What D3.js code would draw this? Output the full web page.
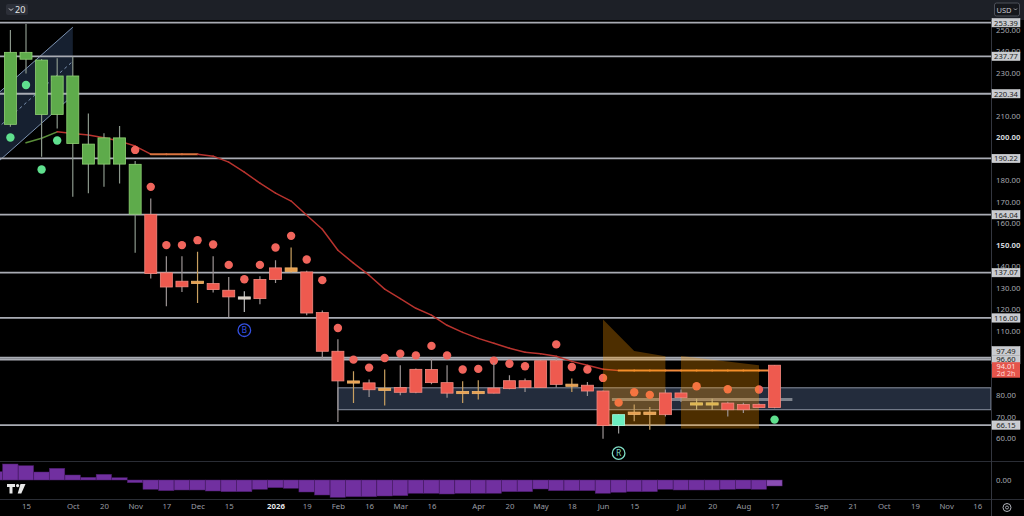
<!DOCTYPE html>
<html>
<head>
<meta charset="utf-8">
<script src="https://cdn.jsdelivr.net/npm/d3@7"></script>
<style>
html,body{margin:0;padding:0;background:#000;overflow:hidden}
svg{display:block;font-family:"Noto Sans",sans-serif}
</style>
</head>
<body>
<script>
var W=1024,H=516;
var axisX=991;

// weekly bars
var weeks=["2025-09-01","2025-09-08","2025-09-15","2025-09-22","2025-09-29","2025-10-06","2025-10-13","2025-10-20","2025-10-27",
  "2025-11-03","2025-11-10","2025-11-17","2025-11-24","2025-12-01","2025-12-08","2025-12-15","2025-12-22","2025-12-29",
  "2026-01-05","2026-01-12","2026-01-19","2026-01-26","2026-02-02","2026-02-09","2026-02-16","2026-02-23","2026-03-02",
  "2026-03-09","2026-03-16","2026-03-23","2026-03-30","2026-04-06","2026-04-13","2026-04-20","2026-04-27","2026-05-04",
  "2026-05-11","2026-05-18","2026-05-25","2026-06-01","2026-06-08","2026-06-15","2026-06-22","2026-06-29","2026-07-06",
  "2026-07-13","2026-07-20","2026-07-27","2026-08-03","2026-08-10","2026-08-17"];

var open =[null,206.1,236.4,210.7,210.7,197.2,187.6,187.6,187.6,164.3,164.2,137,133.1,133.1,132,128.9,125.8,125,
  133.9,139.3,137.4,118.5,100.5,86.7,85.8,83.3,83.6,81.4,92,85.9,81.8,81.8,81,83.1,83.6,83.6,96.1,85.2,84.7,82,66,72.2,72.2,
  71,81.1,76.5,76.5,76.4,75.7,75.8,74.3];
var high =[null,250,252.8,236.5,236.8,237.6,211.2,201.9,205.3,189,171.6,144.7,144.7,146.8,144.7,135.1,128.4,135.4,
  142.9,148.8,138,119.5,106.1,91.2,87.4,92,94,92.5,97.4,94,86.5,87,95,89.3,87.8,96.3,97.8,87.8,86.2,82.3,71.2,75.7,74.6,
  82.7,82.7,78.4,78.4,77,76.5,76.2,94.1];
var low  =[null,205,229.8,191,204.2,172.4,174,177,178.6,146.3,134.4,121.4,128.1,123,127.8,116.5,118.8,122.4,
  132.3,137,117.3,96.6,67.6,76.4,79.2,75.3,80,81,85.1,78.9,76.4,78,80.8,82.8,81.5,83.4,83.6,81.5,79.7,59.8,62.2,67.9,64,
  70.2,76.9,73.3,73.3,70.2,71.8,74.3,74];
var close=[null,239.6,239.6,236,228.6,228.6,196.9,199.8,199.8,187.5,136.7,130.4,130.5,132,129.2,125.8,125.2,133.9,
  139.3,137.6,118.3,100.5,86.7,86.2,82.6,82.9,81.4,92.1,85.9,81,81.5,81.5,83.4,86.8,86.8,96.1,85.1,85,82,66,71,71.1,71.1,
  81.1,78.9,76.3,76.3,73.3,73.3,74.3,94.01];
var trend=[null,"g","g","g","g","g","g","g","g","g","r","r","r","o","r","r","w","r",
  "r","o","r","r","r","o","r","o","r","r","r","r","o","o","r","r","r","r","r","o","r","r","m","o","o",
  "r","r","y","y","r","r","r","r"];

var ema=[null,null,197.5,199.6,202.6,201.8,201.1,199.9,198.3,196.0,192.2,192.2,192.2,192.2,191.3,188.5,183.9,178.7,
  174.1,170.4,163.8,157.3,147.5,141.5,135.9,129.4,125.0,120.5,117.3,112.6,109.3,106.5,104.2,101.9,100.0,99.3,98.2,95.8,
  94.0,92.1,91.6,91.6,91.6,91.6,91.6,91.6,91.6,91.6,91.6,91.6,91.6];

var redDots=[null,null,null,null,null,null,null,null,null,194.2,177,149.9,149.9,152.2,150.2,140.7,134.0,140.7,
  148.8,154.2,143.2,133.6,111.3,96.6,92.9,97.4,99.4,98.6,103.0,98.6,92.0,92.3,96.1,94.7,93.5,null,103.7,93.2,92.0,88.1,
  76.6,81.4,80.2,null,null,84.2,null,82.8,null,82.7,null];
var greenDots=[null,200.0,224.4,185.1,198.6,null,null,null,null,null,null,null,null,null,null,null,null,null,
  null,null,null,null,null,null,null,null,null,null,null,null,null,null,null,null,null,null,null,null,null,null,
  null,null,null,null,null,null,null,null,null,null,68.7];

var hist=[8.3,16,14.3,8,11.7,5,2.7,5.7,2.3,-2.7,-9.3,-10.7,-10,-10,-11,-11.7,-11.7,-9.3,-7.7,-8.3,-12,-15,-17.3,
  -16.7,-16.7,-16,-15.7,-13.3,-13.3,-14,-13.3,-13.3,-13.3,-11.7,-11.7,-9,-10.7,-10.7,-10.7,-13.3,-12.3,-11.7,-11.7,
  -9.3,-10,-10,-10,-9.3,-9,-9.3,-6];

// horizontal levels
var levels=[253.39,237.77,220.34,190.22,164.04,137.07,116.00,97.49,96.60,66.15];
var lastPrice=94.01, lastLabel2="2d 2h";

// range box and mid line
var boxFrom="2026-02-02", boxTop=83.5, boxBottom=73.3;
var midFrom="2026-06-05", midTo="2026-08-25", midValue=78.1;

// orange zones
var zone1Dates=["2026-06-01","2026-06-15","2026-06-29"], zone1Top=[115.3,100.6,98.2], zone1Bottom=66.0;
var zone2Dates=["2026-07-06","2026-08-10"], zone2Top=[98.3,94.0], zone2Bottom=64.6;

// channel
var chanDates=["2025-08-25","2025-10-06"], chanUpper=[212.7,251.3], chanLower=[180.9,219.5];

// badges
var badges=[{d:"2025-12-22",v:110.3,t:"B",c:"#3450e0"},{d:"2026-06-08",v:53.1,t:"R",c:"#7fdcc4"}];

// x ticks
var xTickDates=["2025-09-15","2025-10-06","2025-10-20","2025-11-03","2025-11-17","2025-12-01","2025-12-15","2026-01-05",
  "2026-01-19","2026-02-02","2026-02-16","2026-03-02","2026-03-16","2026-04-06","2026-04-20","2026-05-04","2026-05-18",
  "2026-06-01","2026-06-15","2026-07-06","2026-07-20","2026-08-03","2026-08-17","2026-09-07","2026-09-21","2026-10-05",
  "2026-10-19","2026-11-02","2026-11-16"];
var xTickLabels=["15","Oct","20","Nov","17","Dec","15","2026","19","Feb","16","Mar","16","Apr","20","May","18",
  "Jun","15","Jul","20","Aug","17","Sep","21","Oct","19","Nov","16"];
// price ticks left visible (the others sit under level tags)
var yTicks=[60,70,80,110,120,130,140,150,160,170,180,200,210,230,240,250];

var parse=d3.utcParse("%Y-%m-%d");
var x=d3.scaleUtc().domain([parse("2025-09-15"),parse("2026-11-16")]).range([26,977.3]);
var y=d3.scaleLinear().domain([60,250]).range([438.3,30]);
var yH=d3.scaleLinear().domain([-10,10]).range([490,470]);
var bw=12;

var colors={
  g:{fill:"#5eab4b",stroke:"#8fd173",wick:"#8b978b"},
  r:{fill:"#ee5a4f",stroke:"#f5897f",wick:"#9c9494"},
  o:{fill:"#e8a04f",stroke:"#f0b56e",wick:"#c9a060"},
  y:{fill:"#dcb24a",stroke:"#e8c46a",wick:"#c8b070"},
  w:{fill:"#d8cfc6",stroke:"#e6ddd4",wick:"#bdbdbd"},
  m:{fill:"#6cefc0",stroke:"#a6ffe0",wick:"#9a9a9a"}
};

var svg=d3.select("body").append("svg").attr("width",W).attr("height",H);
svg.append("rect").attr("width",W).attr("height",H).attr("fill","#000");

svg.append("defs").append("clipPath").attr("id","pane")
  .append("rect").attr("x",0).attr("y",20).attr("width",axisX).attr("height",441.5);

var g=svg.append("g").attr("clip-path","url(#pane)");

// channel
var cx0=x(parse(chanDates[0])),cx1=x(parse(chanDates[1]));
g.append("path")
  .attr("d","M"+cx0+","+y(chanUpper[0])+"L"+cx1+","+y(chanUpper[1])+"L"+cx1+","+y(chanLower[1])+"L"+cx0+","+y(chanLower[0])+"Z")
  .attr("fill","#1a2638").attr("opacity",0.85);
[chanUpper,chanLower].forEach(function(c){
  g.append("line").attr("x1",cx0).attr("y1",y(c[0])).attr("x2",cx1).attr("y2",y(c[1]))
    .attr("stroke","#7d93b2").attr("stroke-width",1);
});
g.append("line").attr("x1",cx0).attr("y1",y((chanUpper[0]+chanLower[0])/2)).attr("x2",cx1).attr("y2",y((chanUpper[1]+chanLower[1])/2))
  .attr("stroke","#7d93b2").attr("stroke-width",1).attr("stroke-dasharray","3,3");

// range box
g.append("rect").attr("x",x(parse(boxFrom))).attr("y",y(boxTop))
  .attr("width",axisX-x(parse(boxFrom))).attr("height",y(boxBottom)-y(boxTop))
  .attr("fill","#232c3c").attr("stroke","#8a93a2").attr("stroke-width",1);

// levels
g.selectAll(".lvl").data(levels).enter().append("line")
  .attr("x1",0).attr("x2",axisX).attr("y1",function(d){return y(d);}).attr("y2",function(d){return y(d);})
  .attr("stroke","#a9acb4").attr("stroke-width",1.8);

// mid line
g.append("line").attr("x1",x(parse(midFrom))).attr("x2",x(parse(midTo)))
  .attr("y1",y(midValue)).attr("y2",y(midValue)).attr("stroke","#8d929b").attr("stroke-width",3).attr("opacity",0.85);

// ema segments, coloured by direction
for(var i=1;i<weeks.length;i++){
  if(ema[i-1]==null||ema[i]==null) continue;
  var diff=ema[i]-ema[i-1];
  var col=Math.abs(diff)<0.15?(i>38?"#f08a3c":"#d9733e"):(diff>0?"#5b8f3a":"#b8332e");
  g.append("line")
    .attr("x1",x(parse(weeks[i-1]))).attr("y1",y(ema[i-1]))
    .attr("x2",x(parse(weeks[i]))).attr("y2",y(ema[i]))
    .attr("stroke",col).attr("stroke-width",Math.abs(diff)<0.15?2:1.5).attr("stroke-linecap","round");
}

// dots
g.selectAll(".rd").data(weeks).enter().filter(function(d,i){return redDots[i]!=null;})
  .append("circle").attr("cx",function(d){return x(parse(d));})
  .attr("cy",function(d){return y(redDots[weeks.indexOf(d)]);})
  .attr("r",4.2).attr("fill","#f0655c");
g.selectAll(".gd").data(weeks).enter().filter(function(d,i){return greenDots[i]!=null;})
  .append("circle").attr("cx",function(d){return x(parse(d));})
  .attr("cy",function(d){return y(greenDots[weeks.indexOf(d)]);})
  .attr("r",4.2).attr("fill","#5fe08e");

// orange zones
function zone(dates,tops,bottom){
  var pts=dates.map(function(d,i){return [x(parse(d)),y(tops[i])];});
  var s="M"+pts.map(function(p){return p[0]+","+p[1];}).join("L");
  s+="L"+pts[pts.length-1][0]+","+y(bottom)+"L"+pts[0][0]+","+y(bottom)+"Z";
  g.append("path").attr("d",s).attr("fill","#ff9800").attr("opacity",0.3);
}
zone(zone1Dates,zone1Top,zone1Bottom);
zone(zone2Dates,zone2Top,zone2Bottom);

// candles
var cg=g.selectAll(".c").data(weeks).enter().filter(function(d,i){return open[i]!=null;})
  .append("g");
cg.append("line")
  .attr("x1",function(d){return x(parse(d));}).attr("x2",function(d){return x(parse(d));})
  .attr("y1",function(d){return y(high[weeks.indexOf(d)]);})
  .attr("y2",function(d){return y(low[weeks.indexOf(d)]);})
  .attr("stroke",function(d){return colors[trend[weeks.indexOf(d)]].wick;}).attr("stroke-width",1.2);
cg.append("rect")
  .attr("x",function(d){return x(parse(d))-bw/2;})
  .attr("width",bw)
  .attr("y",function(d){var i=weeks.indexOf(d);return y(Math.max(open[i],close[i]));})
  .attr("height",function(d){var i=weeks.indexOf(d);return Math.max(2.2,Math.abs(y(open[i])-y(close[i])));})
  .attr("fill",function(d){return colors[trend[weeks.indexOf(d)]].fill;})
  .attr("stroke",function(d){return colors[trend[weeks.indexOf(d)]].stroke;})
  .attr("stroke-width",0.8);

// badges
badges.forEach(function(b){
  var bx=x(parse(b.d)),by=y(b.v);
  g.append("circle").attr("cx",bx).attr("cy",by).attr("r",6.3).attr("fill","#000")
    .attr("stroke",b.c).attr("stroke-width",1.3);
  g.append("text").attr("x",bx).attr("y",by+3).attr("text-anchor","middle")
    .attr("font-size",8.5).attr("fill",b.c).text(b.t);
});

// histogram pane
var hg=svg.append("g");
hg.selectAll("rect").data(hist).enter().append("rect")
  .attr("x",function(d,i){return x(parse(weeks[i]))-7.8;})
  .attr("width",15.4)
  .attr("y",function(d){return Math.min(yH(d),yH(0));})
  .attr("height",function(d){return Math.abs(yH(d)-yH(0));})
  .attr("fill",function(d,i){return i==hist.length-1?"#8a4db3":"#7130a0";})
  .attr("stroke","#4a1c6a").attr("stroke-width",0.5);

// pane separators
svg.append("line").attr("x1",0).attr("x2",W).attr("y1",461.5).attr("y2",461.5).attr("stroke","#2a2d35");
svg.append("line").attr("x1",0).attr("x2",W).attr("y1",499.5).attr("y2",499.5).attr("stroke","#2a2d35");
svg.append("line").attr("x1",axisX+0.5).attr("x2",axisX+0.5).attr("y1",20).attr("y2",H).attr("stroke","#33363f");

// header
svg.append("rect").attr("width",W).attr("height",20).attr("fill","#1d2027");
svg.append("rect").attr("x",6).attr("y",4).attr("width",22).attr("height",11).attr("rx",2).attr("fill","#2c2f38");
svg.append("path").attr("d","M9,8.5 L11,10.5 L13,8.5").attr("fill","none").attr("stroke","#d8d8d8").attr("stroke-width",1);
svg.append("text").attr("x",15).attr("y",12.8).attr("font-size",9).attr("fill","#e6e6e6").text("20");
svg.append("rect").attr("x",994.5).attr("y",3).attr("width",25).attr("height",13).attr("rx",2)
  .attr("fill","#15171c").attr("stroke","#4d5059");
svg.append("text").attr("x",996.5).attr("y",12.5).attr("font-size",7.5).attr("fill","#c4c6cc").text("USD");
svg.append("path").attr("d","M1014,8.5 L1015.5,10 L1017,8.5").attr("fill","none").attr("stroke","#c4c6cc").attr("stroke-width",0.8);

// right price axis
var yAxis=d3.axisRight(y).tickValues(yTicks).tickSize(0).tickPadding(0).tickFormat(d3.format(".2f"));
var ya=svg.append("g").attr("transform","translate(996,0)").call(yAxis);
ya.select(".domain").remove();
ya.selectAll("text").attr("font-size",7.8)
  .attr("font-family","Noto Sans, sans-serif")
  .attr("font-weight",function(d){return (d==200||d==150)?"bold":"normal";})
  .attr("fill",function(d){return (d==200||d==150)?"#d0d2d8":"#a6a9b0";});
svg.append("text").attr("x",996).attr("y",yH(0)+3).attr("font-size",7.8).attr("fill","#a6a9b0").text("0.00");

// level tags, stacked upward above the last price tag
var tagTop=y(lastPrice)-3, lh=8.4;
var sorted=levels.slice().sort(function(a,b){return a-b;});
var prevTop=tagTop;
var lblY={};
sorted.forEach(function(v){
  var cy=y(v);
  if(cy+lh/2>prevTop-0.5 && cy<tagTop+20) cy=prevTop-0.5-lh/2;
  lblY[v]=cy;
  prevTop=cy-lh/2;
});
levels.forEach(function(v){
  var cy=lblY[v];
  svg.append("rect").attr("x",992).attr("y",cy-lh/2).attr("width",28).attr("height",lh)
    .attr("fill","#c9cbd0").attr("stroke","#e0e1e4").attr("stroke-width",0.5);
  svg.append("text").attr("x",1006).attr("y",cy+2.8).attr("text-anchor","middle")
    .attr("font-size",7.6).attr("fill","#1e1f23").text(d3.format(".2f")(v));
});
svg.append("rect").attr("x",992).attr("y",tagTop).attr("width",28).attr("height",15.5).attr("fill","#e4544b");
svg.append("text").attr("x",1006).attr("y",tagTop+6.6).attr("text-anchor","middle")
  .attr("font-size",7.4).attr("fill","#ffe3e0").text(d3.format(".2f")(lastPrice));
svg.append("text").attr("x",1006).attr("y",tagTop+13.6).attr("text-anchor","middle")
  .attr("font-size",7).attr("fill","#ffd2cd").text(lastLabel2);

// x axis
var xAxis=d3.axisBottom(x).tickValues(xTickDates.map(parse)).tickSize(0).tickPadding(0)
  .tickFormat(function(d,i){return xTickLabels[i];});
var xa=svg.append("g").attr("transform","translate(0,503)").call(xAxis);
xa.select(".domain").remove();
xa.selectAll("text").attr("font-size",7.8).attr("font-family","Noto Sans, sans-serif")
  .attr("fill",function(d,i){return xTickLabels[i]=="2026"?"#e8e8ea":"#9a9da5";})
  .attr("font-weight",function(d,i){return xTickLabels[i]=="2026"?"bold":"normal";});

// settings icon
svg.append("circle").attr("cx",1007).attr("cy",507.5).attr("r",4).attr("fill","none").attr("stroke","#b0b3ba").attr("stroke-width",1);
svg.append("circle").attr("cx",1007).attr("cy",507.5).attr("r",1.5).attr("fill","none").attr("stroke","#b0b3ba").attr("stroke-width",0.9);

// logo
svg.append("path").attr("d","M7,484 h8 v3 h-2.5 v6.5 h-3 v-6.5 h-2.5z").attr("fill","#e8e8e8");
svg.append("circle").attr("cx",17.6).attr("cy",485.6).attr("r",1.6).attr("fill","#e8e8e8");
svg.append("path").attr("d","M20.5,484 h5 l-4.2,9.5 h-3.6 z").attr("fill","#e8e8e8");
</script>
</body>
</html>
